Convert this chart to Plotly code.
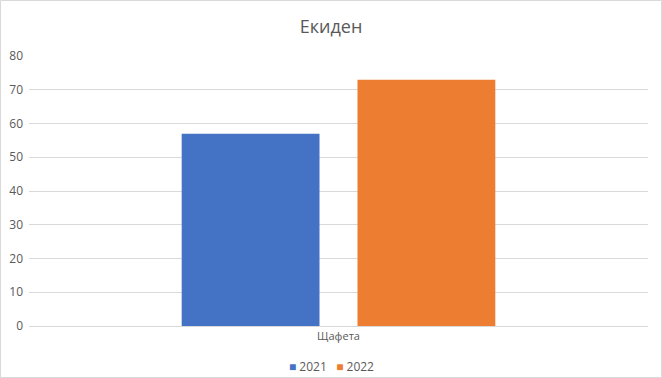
import plotly.graph_objects as go

categories = ["Щафета"]
series_names = ["2021", "2022"]
values_2021 = [57]
values_2022 = [73]
colors = ["#4472C4", "#ED7D31"]
y_ticks = [0, 10, 20, 30, 40, 50, 60, 70, 80]

W, H = 662, 378
ml, mr, mt, mb = 29, 14, 56, 52
pw = W - ml - mr
ph = H - mt - mb

fig = go.Figure()
for name, vals, col in zip(series_names, [values_2021, values_2022], colors):
    fig.add_trace(go.Bar(x=categories, y=vals, name=name, showlegend=False,
                         marker=dict(color=col, line=dict(width=0))))

# compact legend (Excel style: small square right next to its label)
legend_text = "&nbsp;&nbsp;&nbsp;".join(
    f"<span style='color:{c}'>■</span> {n}" for n, c in zip(series_names, colors)
)

fig.update_layout(
    width=W, height=H,
    margin=dict(l=ml, r=mr, t=mt, b=mb, pad=0, autoexpand=False),
    paper_bgcolor="white", plot_bgcolor="white",
    barmode="group", bargap=0.432, bargroupgap=0.216,
    title=dict(text="Екиден", x=0.5, xanchor="center", xref="container", y=1 - 27 / H, yanchor="middle",
               font=dict(family="Open Sans, Liberation Sans, sans-serif", size=18, color="#595959")),
    font=dict(family="Open Sans, Liberation Sans, sans-serif", size=11, color="#595959"),
    showlegend=False,
    xaxis=dict(showgrid=False, showline=True, linecolor="#d9d9d9", linewidth=1, automargin=False,
               ticks="", tickfont=dict(size=11, color="#595959"), fixedrange=True),
    yaxis=dict(range=[0, 80], tickvals=y_ticks, showgrid=True, gridcolor="#d9d9d9", gridwidth=1,
               zeroline=False, showline=False, ticks="", ticklabelstandoff=5, automargin=False,
               tickfont=dict(size=12, color="#595959")),
    annotations=[dict(text=legend_text, xref="paper", yref="paper",
                      x=(W / 2 - ml) / pw, y=-(366 - mt - ph) / ph,
                      xanchor="center", yanchor="middle", showarrow=False,
                      font=dict(size=12, color="#595959"))],
    shapes=[dict(type="rect", xref="paper", yref="paper",
                 x0=(0.5 - ml) / pw, x1=(W - 0.5 - ml) / pw,
                 y0=-(mb - 0.5) / ph, y1=1 + (mt - 0.5) / ph,
                 line=dict(color="#d9d9d9", width=1), fillcolor="rgba(0,0,0,0)", layer="below")],
)

fig.write_html("out.html", config={"displayModeBar": False},
               post_script="document.body.style.margin='0';document.body.style.overflow='hidden';")
